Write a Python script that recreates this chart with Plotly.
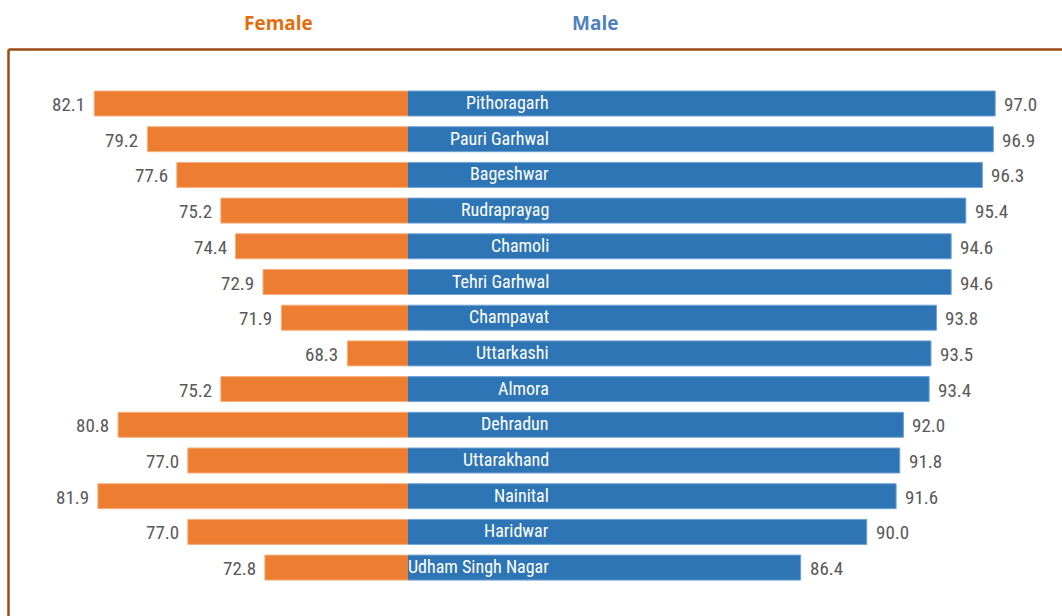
import plotly.graph_objects as go

districts = ["Pithoragarh", "Pauri Garhwal", "Bageshwar", "Rudraprayag", "Chamoli",
             "Tehri Garhwal", "Champavat", "Uttarkashi", "Almora", "Dehradun",
             "Uttarakhand", "Nainital", "Haridwar", "Udham Singh Nagar"]
female = [82.1, 79.2, 77.6, 75.2, 74.4, 72.9, 71.9, 68.3, 75.2, 80.8, 77.0, 81.9, 77.0, 72.8]
male = [97.0, 96.9, 96.3, 95.4, 94.6, 94.6, 93.8, 93.5, 93.4, 92.0, 91.8, 91.6, 90.0, 86.4]

W, H = 1062, 616
BASE = 65.0
PX_PER_UNIT = 18.35
SPLIT_PX = 408
ROW_PX = 35.7
FIRST_ROW_PX = 103.5

split = SPLIT_PX / W
f_range = [BASE + SPLIT_PX / PX_PER_UNIT, BASE]
m_range = [BASE, BASE + (W - SPLIT_PX) / PX_PER_UNIT]
y_top = -FIRST_ROW_PX / ROW_PX
y_bot = (H - FIRST_ROW_PX) / ROW_PX

ORANGE = "#ED7D31"
BLUE = "#2E75B6"
LABEL_FONT = "Liberation Sans Narrow, Arial Narrow, Roboto Condensed, sans-serif"
GREY = "#595959"

fig = go.Figure()
fig.add_trace(go.Bar(
    y=districts, x=female, orientation="h", xaxis="x", yaxis="y",
    marker=dict(color=ORANGE, line=dict(color="#F5B07E", width=1)),
    width=0.70, name="Female", hoverinfo="x+y"))
fig.add_trace(go.Bar(
    y=districts, x=male, orientation="h", xaxis="x2", yaxis="y",
    marker=dict(color=BLUE, line=dict(color="#6FA3D8", width=1)),
    width=0.70, name="Male", hoverinfo="x+y"))

annotations = []
for d, f, m in zip(districts, female, male):
    annotations.append(dict(x=f, y=d, xref="x", yref="y", text=f"{f:.1f}",
                            xanchor="right", yanchor="middle", showarrow=False, xshift=-7, yshift=-1,
                            font=dict(family=LABEL_FONT, size=19, color=GREY)))
    annotations.append(dict(x=m, y=d, xref="x2", yref="y", text=f"{m:.1f}",
                            xanchor="left", yanchor="middle", showarrow=False, xshift=7, yshift=-1,
                            font=dict(family=LABEL_FONT, size=19, color=GREY)))
    annotations.append(dict(x=551 / W, y=d, xref="paper", yref="y", text=d,
                            xanchor="right", yanchor="middle", showarrow=False, yshift=1,
                            font=dict(family=LABEL_FONT, size=18, color="white")))

annotations.append(dict(x=278 / W, y=1 - 23 / H, xref="paper", yref="paper", text="<b>Female</b>",
                        showarrow=False, xanchor="center", yanchor="middle",
                        font=dict(family="Open Sans, Liberation Sans, sans-serif", size=19, color="#E46C0A")))
annotations.append(dict(x=595 / W, y=1 - 23 / H, xref="paper", yref="paper", text="<b>Male</b>",
                        showarrow=False, xanchor="center", yanchor="middle",
                        font=dict(family="Open Sans, Liberation Sans, sans-serif", size=19, color="#4F81BD")))

bx = 8.5 / W
by = 1 - 49.5 / H
BORDER = "#9C4A12"
shapes = [
    dict(type="line", xref="paper", yref="paper", x0=bx, y0=by, x1=bx, y1=-0.1,
         line=dict(color=BORDER, width=2.5)),
    dict(type="line", xref="paper", yref="paper", x0=bx, y0=by, x1=1.1, y1=by,
         line=dict(color=BORDER, width=2.5)),
]

fig.update_layout(
    width=W, height=H,
    margin=dict(l=0, r=0, t=0, b=0),
    paper_bgcolor="white", plot_bgcolor="white",
    showlegend=False, barmode="overlay",
    xaxis=dict(domain=[0, split], range=f_range, visible=False, fixedrange=True),
    xaxis2=dict(domain=[split, 1], range=m_range, visible=False, fixedrange=True),
    yaxis=dict(type="category", categoryorder="array", categoryarray=districts,
               range=[y_bot, y_top], visible=False, fixedrange=True),
    annotations=annotations, shapes=shapes,
)

fig.write_html("out.html", config={"displayModeBar": False},
               post_script="document.body.style.margin='0px';")
